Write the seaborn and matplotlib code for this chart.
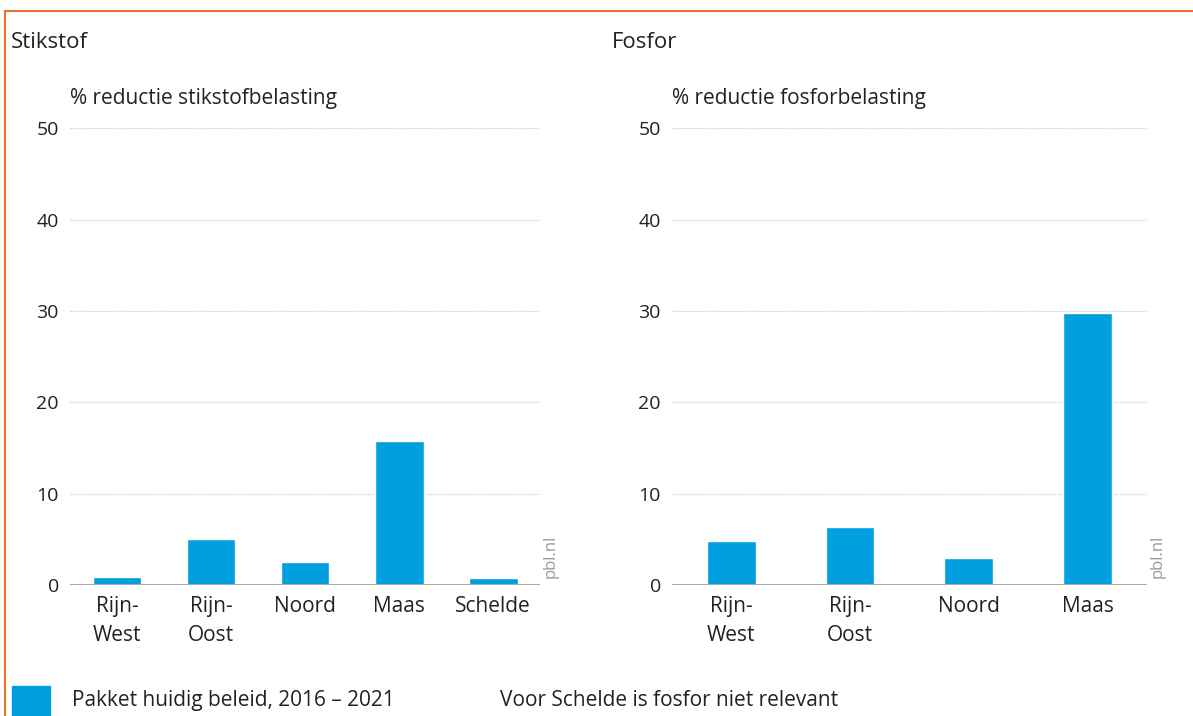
import matplotlib
matplotlib.use("Agg")
import matplotlib.pyplot as plt
import matplotlib.patches as mpatches
import matplotlib.lines as mlines
import seaborn as sns
import pandas as pd

# data
stikstof_regions = ["Rijn-\nWest", "Rijn-\nOost", "Noord", "Maas", "Schelde"]
stikstof_values = [0.9, 5.0, 2.5, 15.8, 0.8]
fosfor_regions = ["Rijn-\nWest", "Rijn-\nOost", "Noord", "Maas"]
fosfor_values = [4.8, 6.3, 2.9, 29.8]
y_ticks = [0, 10, 20, 30, 40, 50]

bar_color = "#009FE0"
text_color = "#222222"

sns.set_theme(style="white")
plt.rcParams['font.family'] = ['Open Sans', 'DejaVu Sans']

fig = plt.figure(figsize=(11.93, 7.16), dpi=100)


def panel(rect, regions, values, title, ylabel, width):
    """
    draw one bar panel
    """
    ax = fig.add_axes(rect)
    df = pd.DataFrame({"regio": regions, "waarde": values})
    sns.barplot(data=df, x="regio", y="waarde", color=bar_color,
                width=width, saturation=1, ax=ax)
    ax.set_ylim(0, 50)
    ax.set_yticks(y_ticks)
    ax.set_xlim(-0.5, len(regions) - 0.5)
    ax.set_xlabel("")
    ax.set_ylabel("")
    for y in y_ticks[1:]:
        ax.axhline(y, color="#cccccc", lw=0.9, ls=(0, (1, 1)), zorder=0)
    ax.axhline(0, color="#aaaaaa", lw=1.5, zorder=3)
    for side in ["top", "right", "left", "bottom"]:
        ax.spines[side].set_visible(False)
    ax.tick_params(axis="x", length=0, labelsize=15, colors=text_color, pad=8)
    ax.tick_params(axis="y", length=0, labelsize=14, colors=text_color, pad=8)
    for lab in ax.get_xticklabels():
        lab.set_linespacing(1.5)
    # titles in figure coords
    x0 = rect[0]
    fig.text(x0 - 0.050, 0.940, title, fontsize=16, color=text_color,
             ha="left", va="center")
    fig.text(x0, 0.862, ylabel, fontsize=15, color=text_color,
             ha="left", va="center")
    fig.text(x0 + rect[2] + 0.009, rect[1] + 0.04, "pbl.nl", fontsize=12,
             color="#999999", rotation=90, ha="center", va="center")
    return ax


panel([0.0587, 0.183, 0.394, 0.638], stikstof_regions, stikstof_values,
      "Stikstof", "% reductie stikstofbelasting", 0.52)
panel([0.5633, 0.183, 0.398, 0.638], fosfor_regions, fosfor_values,
      "Fosfor", "% reductie fosforbelasting", 0.41)

# legend / footnote
fig.patches.append(mpatches.Rectangle((0.010, 0.0), 0.032, 0.042,
                                      transform=fig.transFigure,
                                      color=bar_color))
fig.text(0.060, 0.022, "Pakket huidig beleid, 2016 – 2021", fontsize=15,
         color=text_color, ha="left", va="center")
fig.text(0.419, 0.022, "Voor Schelde is fosfor niet relevant", fontsize=15,
         color=text_color, ha="left", va="center")

# orange frame (left and top only)
orange = "#E8722C"
fig.lines.append(mlines.Line2D([0.004, 0.004], [0.0, 0.985],
                               transform=fig.transFigure, color=orange, lw=1.5))
fig.lines.append(mlines.Line2D([0.004, 1.0], [0.985, 0.985],
                               transform=fig.transFigure, color=orange, lw=1.5))

fig.savefig("out.png", dpi=100)
